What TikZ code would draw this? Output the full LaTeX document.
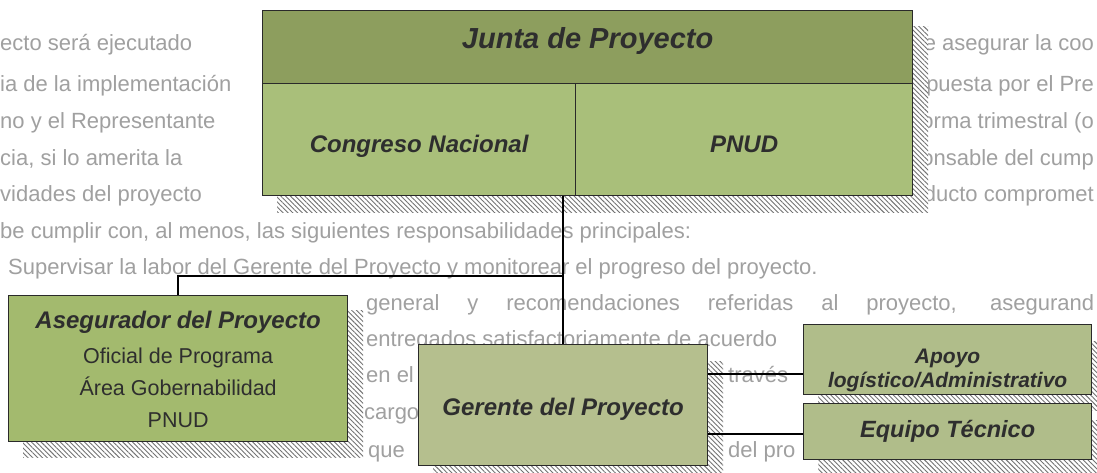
\documentclass[tikz,border=0pt]{standalone}
\usepackage{fontspec}
\setmainfont{Liberation Sans}
\usetikzlibrary{patterns.meta}
\definecolor{jtop}{HTML}{8D9E5E}
\definecolor{jbot}{HTML}{A9BF7A}
\definecolor{asegc}{HTML}{A3BA6E}
\definecolor{gerc}{HTML}{B5BF8E}
\definecolor{apc}{HTML}{B0BD8A}
\definecolor{txt}{HTML}{2E2E2E}
\definecolor{bgtxt}{HTML}{A0A0A0}
\definecolor{edge}{HTML}{2A2A2A}
\tikzset{
  box/.style={draw=edge, line width=1.3pt, inner sep=0pt, anchor=north west},
  hatch/.style={preaction={fill=white}, pattern={Lines[angle=-45,distance=3.4pt,line width=0.9pt]}, pattern color=black!55},
  conn/.style={draw=black, line width=1.4pt},
  ttl/.style={font=\bfseries\itshape\fontsize{24}{28}\selectfont, text=txt, inner sep=0pt, anchor=base},
  big/.style={font=\bfseries\itshape\fontsize{29}{33}\selectfont, text=txt, inner sep=0pt, anchor=base},
  sml/.style={font=\bfseries\itshape\fontsize{21}{25}\selectfont, text=txt, inner sep=0pt, anchor=base},
  sub/.style={font=\fontsize{21.5}{25}\selectfont, text=txt, inner sep=0pt, anchor=base},
  bg/.style={font=\fontsize{22}{26}\selectfont, text=bgtxt, inner sep=0pt},
  bgl/.style={bg, anchor=base west},
  bgr/.style={bg, anchor=base east}
}
\begin{document}
\begin{tikzpicture}[x=1pt,y=-1pt]
\useasboundingbox (0,0) rectangle (1097,473);
\fill[white] (0,0) rectangle (1097,473);
\begin{scope}
\clip (0,0) rectangle (1097,473);
% faint page text behind the chart (visible parts only)
\node[bgl] (b1l) at (0,51) {ecto será ejecutado};
\node[bgr] (b1r) at (1094,51) {de asegurar la coo};
\node[bgl] (b2l) at (0,92) {ia de la implementación};
\node[bgr] (b2r) at (1094,92) {puesta por el Pre};
\node[bgl] (b3l) at (0,129) {no y el Representante};
\node[bgr] (b3r) at (1094,129) {forma trimestral (o};
\node[bgl] (b4l) at (0,166) {cia, si lo amerita la};
\node[bgr] (b4r) at (1094,166) {ponsable del cump};
\node[bgl] (b5l) at (0,202) {vidades del proyecto};
\node[bgr] (b5r) at (1094,202) {ducto compromet};
\node[bgl] (b6) at (0,238) {be cumplir con, al menos, las siguientes responsabilidades principales:};
\node[bgl] (b7) at (8,274) {Supervisar la labor del Gerente del Proyecto y monitorear el progreso del proyecto.};
\node[bgl] (b8) at (366,310) {\makebox[728pt][s]{general y recomendaciones referidas al proyecto, asegurand}};
\node[bgl] (b9) at (366,346) {entregados satisfactoriamente de acuerdo};
\node[bgl] (b10a) at (366,382) {en el};
\node[bgl] (b10b) at (728,382) {través};
\node[bgl] (b11) at (364,419) {cargo};
\node[bgl] (b12a) at (368,457) {que};
\node[bgl] (b12b) at (728,457) {del pro};
% hatched shadows
\path[hatch] (277,27) rectangle (928,212);
\path[hatch] (23,310) rectangle (363,457);
\path[hatch] (433,361) rectangle (723,490);
\path[hatch] (818,341) rectangle (1110,410);
\path[hatch] (818,420) rectangle (1110,490);
\end{scope}
% boxes
\node[box, fill=jtop, minimum width=650pt, minimum height=73pt] (junta) at (262,10) {};
\node[box, fill=jbot, minimum width=313pt, minimum height=112pt] (congreso) at (262,83) {};
\node[box, fill=jbot, minimum width=337pt, minimum height=112pt] (pnud) at (575,83) {};
\node[box, fill=asegc, minimum width=339pt, minimum height=146pt] (aseg) at (8,295) {};
\node[box, fill=gerc, minimum width=289pt, minimum height=121pt] (gerente) at (418,344) {};
\node[box, fill=apc, minimum width=288pt, minimum height=70pt] (apoyo) at (803,324) {};
\node[box, fill=apc, minimum width=288pt, minimum height=56pt] (equipo) at (803,403) {};
% connectors
\coordinate (branch) at (gerente.north |- 0,276);
\draw[conn] (gerente.north |- congreso.south) -- (gerente.north);
\draw[conn] (aseg.north) |- (branch);
\draw[conn] (gerente.east |- 0,374) -- (apoyo.west |- 0,374);
\draw[conn] (gerente.east |- 0,434) -- (equipo.west |- 0,434);
% labels
\node[big] (tjunta) at (junta.center |- 0,49) {Junta de Proyecto};
\node[ttl] (tcong) at (congreso.center |- 0,153) {Congreso Nacional};
\node[ttl] (tpnud) at (pnud.center |- 0,153) {PNUD};
\node[ttl] (taseg) at (aseg.center |- 0,328) {Asegurador del Proyecto};
\node[sub] (tofi) at (aseg.center |- 0,363) {Oficial de Programa};
\node[sub] (tarea) at (aseg.center |- 0,395) {Área Gobernabilidad};
\node[sub] (tpnud2) at (aseg.center |- 0,427) {PNUD};
\node[ttl] (tger) at (gerente.center |- 0,415) {Gerente del Proyecto};
\node[sml] (tapo1) at (apoyo.center |- 0,363) {Apoyo};
\node[sml] (tapo2) at (apoyo.center |- 0,387) {logístico/Administrativo};
\node[ttl, font=\bfseries\itshape\fontsize{23.5}{27}\selectfont] (tequ) at (equipo.center |- 0,437) {Equipo Técnico};
\end{tikzpicture}
\end{document}
